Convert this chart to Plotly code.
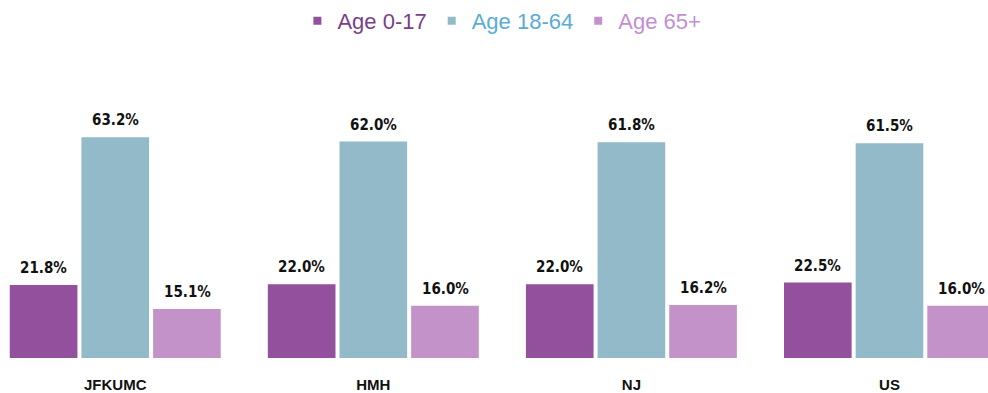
import plotly.graph_objects as go

categories = ["JFKUMC", "HMH", "NJ", "US"]
age_0_17 = [21.8, 22.0, 22.0, 22.5]
age_18_64 = [63.2, 62.0, 61.8, 61.5]
age_65_plus = [15.1, 16.0, 16.2, 16.0]

series = [
    ("Age 0-17", age_0_17, "#93509C", "#7A3F86"),
    ("Age 18-64", age_18_64, "#92BAC8", "#5AACD6"),
    ("Age 65+", age_65_plus, "#C392C8", "#C38FD0"),
]

value_font = "DejaVu Sans Condensed, Arial Narrow, sans-serif"
cat_font = "Liberation Sans, Arial, sans-serif"

# horizontal pixel offset of each bar within its group
slot_px = 71.75
offsets = [-slot_px, 0, slot_px]

fig = go.Figure()
annotations = []
for (name, vals, bar_color, text_color), dx in zip(series, offsets):
    fig.add_trace(go.Bar(
        x=categories,
        y=vals,
        name=name,
        showlegend=False,
        marker=dict(color=bar_color, line=dict(width=0)),
        hovertemplate="%{x}: %{y:.1f}%<extra>" + name + "</extra>",
    ))
    # legend entry with a small square swatch
    fig.add_trace(go.Scatter(
        x=[None], y=[None],
        mode="markers",
        name=f"<span style='color:{text_color}'>{name}</span>",
        marker=dict(symbol="square", size=8, color=bar_color),
        showlegend=True,
    ))
    for cat, v in zip(categories, vals):
        annotations.append(dict(
            x=cat, y=v, xref="x", yref="y",
            text=f"<b>{v:.1f}%</b>",
            showarrow=False,
            xanchor="center", yanchor="bottom",
            xshift=dx, yshift=6,
            font=dict(family=value_font, size=15, color="#111111"),
        ))

fig.update_layout(
    width=988,
    height=393,
    margin=dict(l=0, r=0, t=113, b=35),
    paper_bgcolor="white",
    plot_bgcolor="white",
    barmode="group",
    bargap=0.167,
    bargroupgap=0.056,
    showlegend=True,
    annotations=annotations,
    legend=dict(
        orientation="h",
        x=0.508, xanchor="center",
        y=1.0, yref="container", yanchor="top",
        font=dict(family=cat_font, size=22),
        itemwidth=30,
        traceorder="normal",
    ),
    xaxis=dict(
        range=[-0.4466, 3.3818],
        showgrid=False,
        showline=False,
        zeroline=False,
        tickfont=dict(family=cat_font, size=15, color="#111111", weight="bold"),
        ticklabelstandoff=16,
    ),
    yaxis=dict(
        range=[1.35, 70.0],
        visible=False,
        showgrid=False,
        zeroline=False,
    ),
)

fig.write_html("out.html")
